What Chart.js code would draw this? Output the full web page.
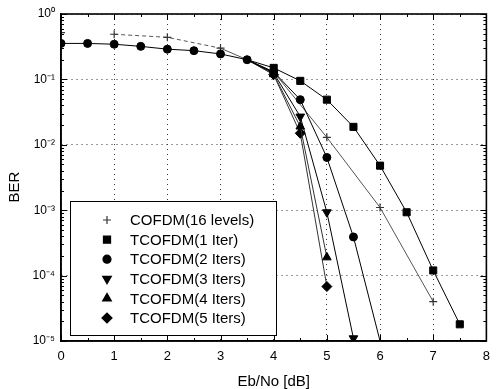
<!DOCTYPE html>
<html><head><meta charset="utf-8">
<script src="https://cdn.jsdelivr.net/npm/chart.js@4/dist/chart.umd.min.js"></script>
<style>html,body{margin:0;padding:0;background:#fff}canvas{display:block}</style>
</head><body>
<canvas id="c" width="498" height="389"></canvas>
<script>
// ---- data ----
const xTickValues = [0,1,2,3,4,5,6,7,8];
const yDecades = [1e-5,1e-4,1e-3,1e-2,1e-1,1];
const yTickLabels = ['10\u207B\u2075','10\u207B\u2074','10\u207B\u00B3','10\u207B\u00B2','10\u207B\u00B9','10\u2070'];
const seriesLabels = ['COFDM(16 levels)','TCOFDM(1 Iter)','TCOFDM(2 Iters)','TCOFDM(3 Iters)','TCOFDM(4 Iters)','TCOFDM(5 Iters)'];

const cofdmX = [0,1,2,3,3.5,4,5,6,7];
const cofdmY = [0.52,0.49,0.44,0.30,0.20,0.13,0.013,0.0011,0.00004];
const iter1X = [3.5,4,4.5,5,5.5,6,6.5,7,7.5];
const iter1Y = [0.20,0.15,0.095,0.049,0.0188,0.0048,0.00093,0.00012,0.000018];
const iter2X = [0,0.5,1,1.5,2,2.5,3,3.5,4,4.5,5,5.5,6];
const iter2Y = [0.355,0.355,0.345,0.32,0.29,0.275,0.245,0.20,0.13,0.049,0.0064,0.00039,0.00001];
const iter3X = [3.5,4,4.5,5,5.5];
const iter3Y = [0.20,0.125,0.027,0.00093,0.000011];
const iter4X = [3.5,4,4.5,5];
const iter4Y = [0.20,0.12,0.019,0.00019];
const iter5X = [3.5,4,4.5,5];
const iter5Y = [0.20,0.118,0.015,0.000068];

const pts = (xs, ys) => xs.map((x, i) => ({x, y: ys[i]}));
const FONT = '"Liberation Sans", Arial, Helvetica, sans-serif';

function radiusFn(r, hideFirst) {
  return c => {
    if (!c.raw) return r;
    if (c.raw.y < 1.05e-5) return 0;
    if (hideFirst && c.dataIndex === 0) return 0;
    return r;
  };
}

const styles = [
  {pointStyle:'cross', r:4, rotation:0, color:'#333'},
  {pointStyle:'rect', r:5, rotation:0, color:'#000'},
  {pointStyle:'circle', r:4, rotation:0, color:'#000'},
  {pointStyle:'triangle', r:5, rotation:180, color:'#000'},
  {pointStyle:'triangle', r:5, rotation:0, color:'#000'},
  {pointStyle:'rectRot', r:5, rotation:0, color:'#000'}
];

const dataArr = [pts(cofdmX,cofdmY), pts(iter1X,iter1Y), pts(iter2X,iter2Y), pts(iter3X,iter3Y), pts(iter4X,iter4Y), pts(iter5X,iter5Y)];
const hideFirst = [false,true,false,true,true,true];
const orders = [5,1,0,2,3,4];

const datasets = dataArr.map((d, i) => ({
  label: seriesLabels[i],
  data: d,
  order: orders[i],
  borderColor: i === 0 ? '#555' : (i >= 4 ? '#333' : '#000'),
  borderWidth: 1,
  backgroundColor: '#000',
  pointBackgroundColor: '#000',
  pointBorderColor: styles[i].color,
  pointBorderWidth: i === 0 ? 1.2 : 1,
  pointStyle: styles[i].pointStyle,
  pointRotation: styles[i].rotation,
  pointRadius: radiusFn(styles[i].r, hideFirst[i]),
  pointHoverRadius: 0,
  tension: 0,
  segment: i === 0 ? {
    borderDash: c => (c.p0.parsed.x < 3 ? [4,3] : undefined),
    borderColor: c => (c.p0.parsed.x < 1 ? 'rgba(0,0,0,0)' : undefined)
  } : undefined
}));

const decor = {
  id: 'decor',
  afterDatasetsDraw(chart) {
    const {ctx, chartArea: a, scales: {x, y}} = chart;
    ctx.save();
    ctx.strokeStyle = '#000';
    ctx.lineWidth = 1;
    ctx.beginPath();
    for (let v = 0; v <= 8; v += 0.5) {
      const px = Math.round(x.getPixelForValue(v)) + 0.5;
      const L = Number.isInteger(v) ? 6 : 3;
      ctx.moveTo(px, a.bottom); ctx.lineTo(px, a.bottom - L);
      ctx.moveTo(px, a.top); ctx.lineTo(px, a.top + L);
    }
    for (let n = -5; n <= 0; n++) {
      for (let k = 1; k <= 9; k++) {
        const v = k * Math.pow(10, n);
        if (v > 1.0001) break;
        const py = Math.round(y.getPixelForValue(v)) + 0.5;
        const L = k === 1 ? 6 : 3;
        ctx.moveTo(a.left, py); ctx.lineTo(a.left + L, py);
        ctx.moveTo(a.right, py); ctx.lineTo(a.right - L, py);
      }
    }
    ctx.stroke();
    ctx.lineWidth = 1.6;
    ctx.strokeRect(a.left, a.top, a.right - a.left, a.bottom - a.top);

    // legend box
    const bx = 70, by = 201, bw = 206, bh = 134;
    ctx.fillStyle = '#fff';
    ctx.fillRect(bx, by, bw, bh);
    ctx.lineWidth = 1;
    ctx.strokeStyle = '#000';
    ctx.strokeRect(bx + 0.5, by + 0.5, bw, bh);
    ctx.font = '15px ' + FONT;
    ctx.textBaseline = 'middle';
    ctx.textAlign = 'left';
    chart.data.datasets.forEach((ds, i) => {
      const cy = 220 + i * 19.6;
      const st = styles[i];
      ctx.fillStyle = '#000';
      ctx.strokeStyle = st.color;
      ctx.lineWidth = 1.2;
      if (Chart.helpers && Chart.helpers.drawPoint) {
        Chart.helpers.drawPoint(ctx, {pointStyle: st.pointStyle, radius: st.r, rotation: st.rotation, borderWidth: 1}, 107, cy);
      } else {
        ctx.fillRect(103, cy - 4, 8, 8);
      }
      ctx.fillStyle = '#000';
      ctx.fillText(ds.label, 130, cy + 1);
    });

    // y-axis title
    ctx.translate(15, 187);
    ctx.rotate(-Math.PI / 2);
    ctx.textAlign = 'center';
    ctx.textBaseline = 'middle';
    ctx.font = '15px ' + FONT;
    ctx.fillStyle = '#000';
    ctx.fillText('BER', 0, 0);
    ctx.restore();
  }
};

new Chart(document.getElementById('c'), {
  type: 'line',
  data: { datasets },
  options: {
    responsive: false,
    devicePixelRatio: 1,
    animation: false,
    events: [],
    layout: { padding: { top: 14, right: 1, left: 0, bottom: 0 } },
    plugins: { legend: { display: false }, tooltip: { enabled: false } },
    scales: {
      x: {
        type: 'linear', min: 0, max: 8,
        afterBuildTicks: s => { s.ticks = xTickValues.map(v => ({value: v})); },
        afterFit: s => { s.height = 48; },
        ticks: { font: { size: 13, family: FONT }, color: '#000', padding: 8, maxRotation: 0 },
        grid: { color: '#333', lineWidth: 1, drawTicks: false },
        border: { display: true, color: '#000', width: 1.5, dash: [1,4] },
        title: { display: true, text: 'Eb/No [dB]', color: '#000', font: { size: 15, family: FONT, lineHeight: 1 }, padding: { top: 0, bottom: 0 } }
      },
      y: {
        type: 'logarithmic', min: 1e-5, max: 1,
        afterBuildTicks: s => { s.ticks = yDecades.map(v => ({value: v, major: true})); },
        afterFit: s => { s.width = 61; },
        ticks: { font: { size: 12, family: FONT }, color: '#000', padding: 6,
          callback: (v, i) => yTickLabels[yDecades.findIndex(d => Math.abs(Math.log10(d) - Math.log10(v)) < 1e-6)] },
        grid: { color: '#333', lineWidth: 1, drawTicks: false },
        border: { display: true, color: '#000', width: 1.5, dash: [1,4] }
      }
    }
  },
  plugins: [decor]
});
</script>
</body></html>
